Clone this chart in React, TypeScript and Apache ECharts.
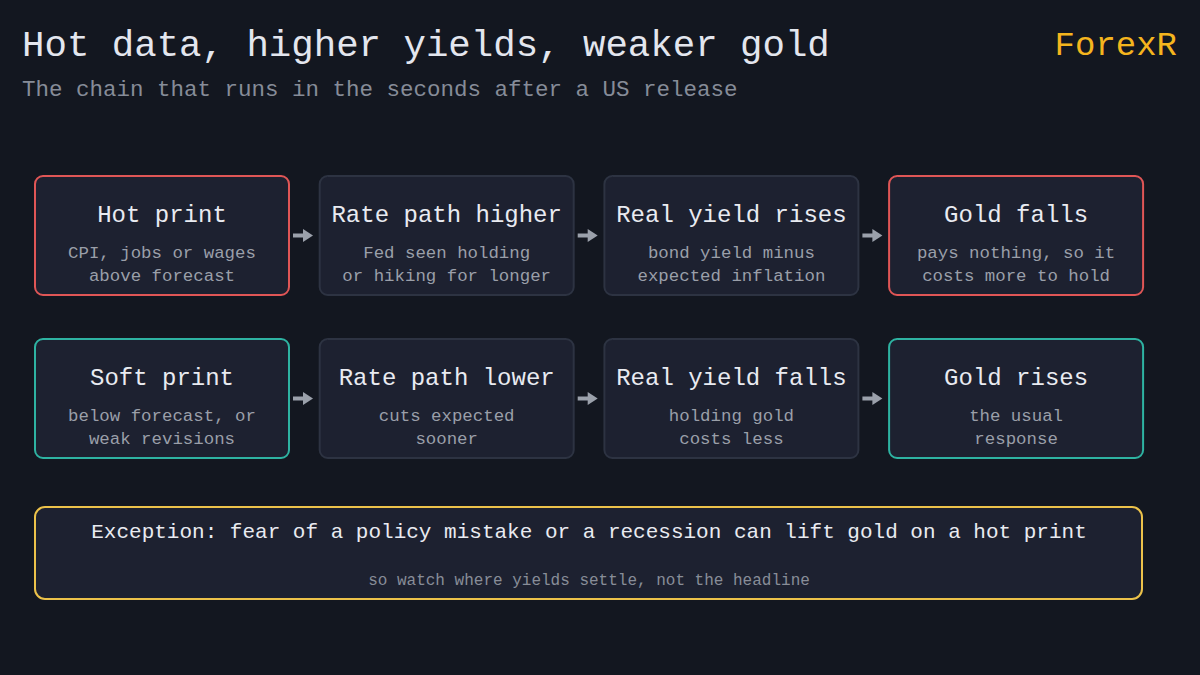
import * as echarts from "echarts";
import { useEffect, useRef } from "react";

const titleText = "Hot data, higher yields, weaker gold";
const subtitleText = "The chain that runs in the seconds after a US release";
const brandText = "ForexR";

const hotTitles = ["Hot print", "Rate path higher", "Real yield rises", "Gold falls"];
const hotNotes = [
  ["CPI, jobs or wages", "above forecast"],
  ["Fed seen holding", "or hiking for longer"],
  ["bond yield minus", "expected inflation"],
  ["pays nothing, so it", "costs more to hold"],
];
const softTitles = ["Soft print", "Rate path lower", "Real yield falls", "Gold rises"];
const softNotes = [
  ["below forecast, or", "weak revisions"],
  ["cuts expected", "sooner"],
  ["holding gold", "costs less"],
  ["the usual", "response"],
];
const exceptionText =
  "Exception: fear of a policy mistake or a recession can lift gold on a hot print";
const exceptionNote = "so watch where yields settle, not the headline";

const FONT = "'Liberation Mono', 'DejaVu Sans Mono', monospace";
const BG = "#131720";
const BOX_FILL = "#1d2130";
const BOX_BORDER = "#2d3342";
const RED = "#e05656";
const TEAL = "#2eb3a2";
const GOLD = "#ecc24a";

const BOX_W = 254;
const BOX_H = 119;
const BOX_STEP = 284.7;
const BOX_X0 = 35;

function rowGraphics(titles: string[], notes: string[][], top: number, accent: string) {
  const out: any[] = [];
  titles.forEach((t, i) => {
    const x = BOX_X0 + i * BOX_STEP;
    const edge = i === 0 || i === titles.length - 1;
    out.push({
      type: "rect",
      shape: { x, y: top, width: BOX_W, height: BOX_H, r: 8 },
      style: { fill: BOX_FILL, stroke: edge ? accent : BOX_BORDER, lineWidth: 2 },
    });
    out.push({
      type: "text",
      style: {
        x: x + BOX_W / 2,
        y: top + 39,
        text: t,
        fill: "#e9ebf1",
        font: `24px ${FONT}`,
        textAlign: "center",
        textVerticalAlign: "middle",
      },
    });
    notes[i].forEach((line, j) => {
      out.push({
        type: "text",
        style: {
          x: x + BOX_W / 2,
          y: top + 77 + j * 23,
          text: line,
          fill: "#9a9fa9",
          font: `17.4px ${FONT}`,
          textAlign: "center",
          textVerticalAlign: "middle",
        },
      });
    });
    if (i < titles.length - 1) {
      // arrow to the next box
      const ax = x + BOX_W + 4;
      const ay = top + 59.5;
      out.push({
        type: "rect",
        shape: { x: ax, y: ay - 2, width: 12, height: 4 },
        style: { fill: "#9ba1ab" },
      });
      out.push({
        type: "polygon",
        shape: { points: [[ax + 10, ay - 6.5], [ax + 20, ay], [ax + 10, ay + 6.5]] },
        style: { fill: "#9ba1ab" },
      });
    }
  });
  return out;
}

const App = () => {
  const chartRef = useRef<HTMLDivElement>(null);

  useEffect(() => {
    document.body.style.margin = "0";
    const chart = echarts.init(chartRef.current, null, { renderer: "svg" });
    const graphic: any[] = [
      {
        type: "text",
        style: {
          x: 22,
          y: 46,
          text: titleText,
          fill: "#e3e6ee",
          font: `37.4px ${FONT}`,
          textVerticalAlign: "middle",
        },
      },
      {
        type: "text",
        style: {
          x: 22,
          y: 90,
          text: subtitleText,
          fill: "#868c98",
          font: `22.5px ${FONT}`,
          textVerticalAlign: "middle",
        },
      },
      {
        type: "text",
        style: {
          x: 1177,
          y: 46,
          text: brandText,
          fill: "#f5b51e",
          font: `34px ${FONT}`,
          textAlign: "right",
          textVerticalAlign: "middle",
        },
      },
      ...rowGraphics(hotTitles, hotNotes, 176, RED),
      ...rowGraphics(softTitles, softNotes, 339, TEAL),
      {
        type: "rect",
        shape: { x: 35, y: 507, width: 1107, height: 92, r: 10 },
        style: { fill: BOX_FILL, stroke: GOLD, lineWidth: 2 },
      },
      {
        type: "text",
        style: {
          x: 589,
          y: 532,
          text: exceptionText,
          fill: "#e9ebf1",
          font: `21px ${FONT}`,
          textAlign: "center",
          textVerticalAlign: "middle",
        },
      },
      {
        type: "text",
        style: {
          x: 589,
          y: 581,
          text: exceptionNote,
          fill: "#888d98",
          font: `16px ${FONT}`,
          textAlign: "center",
          textVerticalAlign: "middle",
        },
      },
    ];
    chart.setOption({
      animation: false,
      backgroundColor: BG,
      graphic,
    });
    return () => {
      chart.dispose();
    };
  }, []);

  return <div ref={chartRef} style={{ width: "1200px", height: "675px" }}></div>;
};

export default App;
